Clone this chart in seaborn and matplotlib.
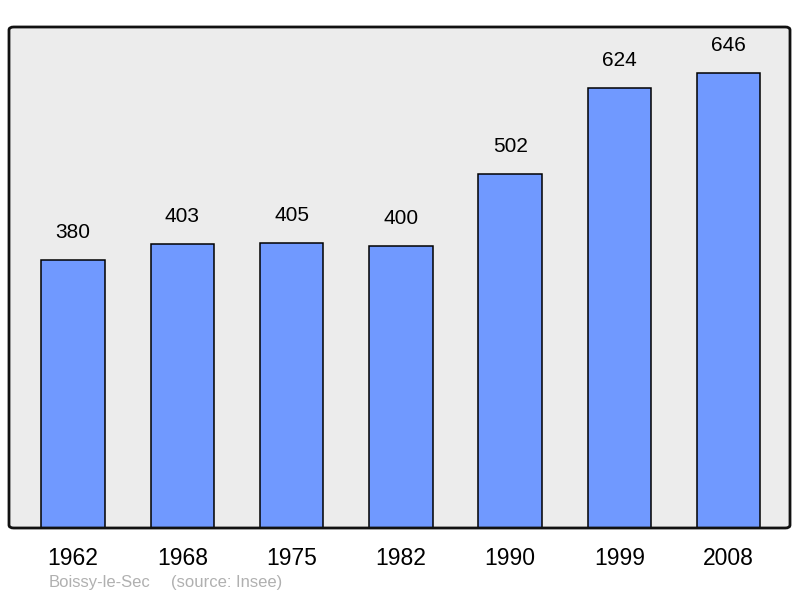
import matplotlib
matplotlib.use("Agg")
import matplotlib.pyplot as plt
from matplotlib.patches import FancyBboxPatch
import pandas as pd
import seaborn as sns

years = ["1962", "1968", "1975", "1982", "1990", "1999", "2008"]
population = [380, 403, 405, 400, 502, 624, 646]

sns.set_theme(style="white")
plt.rcParams["font.family"] = ["Liberation Sans", "DejaVu Sans"]

data = pd.DataFrame({"year": years, "population": population})

fig = plt.figure(figsize=(8, 5.98), dpi=100)
ax = fig.add_axes([9 / 800, 70 / 598, 781 / 800, 501 / 598])
ax.set_facecolor("#ececec")

sns.barplot(data=data, x="year", y="population", color="#7099ff",
            saturation=1, width=0.58, edgecolor="black", linewidth=1.1, ax=ax)

ax.bar_label(ax.containers[0], fmt="%d", padding=13, fontsize=15, color="black")

ax.set_ylim(0, 711)
ax.set_xlim(-0.585, 6.56)
ax.set_xlabel("")
ax.set_ylabel("")
ax.set_yticks([])
ax.tick_params(axis="x", length=0, labelsize=16.5, pad=14, colors="black")

for s in ax.spines.values():
    s.set_visible(False)
frame = FancyBboxPatch((0, 0), 1, 1, boxstyle="round,pad=0,rounding_size=0.006",
                       transform=ax.transAxes, fill=False, edgecolor="#111111",
                       linewidth=2, clip_on=False, zorder=5)
ax.add_patch(frame)

fig.text(49 / 800, 1 - 583 / 598, "Boissy-le-Sec", fontsize=12, color="#b0b0b0", va="center")
fig.text(171 / 800, 1 - 583 / 598, "(source: Insee)", fontsize=12, color="#b0b0b0", va="center")

fig.savefig("out.png", dpi=100)
